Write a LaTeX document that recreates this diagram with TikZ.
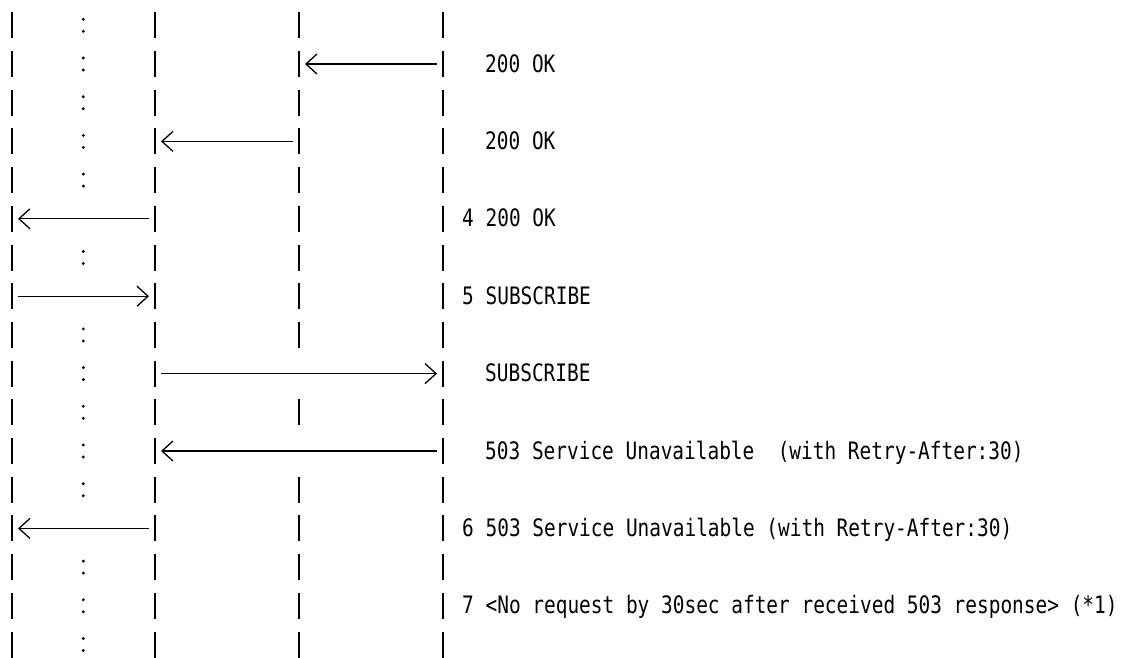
\documentclass[tikz,border=0pt]{standalone}
\usepackage{fontspec}
\newfontfamily\gothic[FakeStretch=0.81]{DejaVu Sans Mono}
\usetikzlibrary{arrows.meta}
\begin{document}
\begin{tikzpicture}[x=1pt,y=-1pt,
  bar/.style={line width=2.2pt},
  msg/.style={line width=1.3pt, shorten <=6pt, shorten >=6pt},
  chev/.tip={Straight Barb[length=11pt,width=20pt]},
  lbl/.style={anchor=base west, inner sep=0pt, font=\gothic\fontsize{24}{26}\selectfont}]
\useasboundingbox (0,0) rectangle (1121,657);
% row coordinates on the four lifelines and the colon column
\foreach \i in {1,...,17}{
  \coordinate (A\i) at (12,{25.3+(\i-1)*38.7});
  \coordinate (B\i) at (83.3,{25.3+(\i-1)*38.7});
  \coordinate (C\i) at (155,{25.3+(\i-1)*38.7});
  \coordinate (D\i) at (299,{25.3+(\i-1)*38.7});
  \coordinate (E\i) at (443,{25.3+(\i-1)*38.7});
}
% lifeline bars
\foreach \i in {1,...,17}{
  \draw[bar] ([yshift=13pt]A\i) -- ([yshift=-13pt]A\i);
  \draw[bar] ([yshift=13pt]C\i) -- ([yshift=-13pt]C\i);
  \draw[bar] ([yshift=13pt]E\i) -- ([yshift=-13pt]E\i);
}
\foreach \i in {1,...,9,11,13,14,15,16,17}{
  \draw[bar] ([yshift=13pt]D\i) -- ([yshift=-13pt]D\i);
}
% colons
\foreach \i in {1,2,3,4,5,7,9,10,11,12,13,15,16,17}{
  \fill ([yshift=6pt]B\i) circle (1.6pt);
  \fill ([yshift=-6pt]B\i) circle (1.6pt);
}
% messages
\draw[msg, chev-] (D2) -- (E2);
\draw[msg, chev-] (C4) -- (D4);
\draw[msg, chev-] (A6) -- (C6);
\draw[msg, -chev] (A8) -- (C8);
\draw[msg, -chev] (C10) -- (E10);
\draw[msg, chev-] (C12) -- (E12);
\draw[msg, chev-] (A14) -- (C14);
% labels
\node[lbl] (t2) at ([xshift=42pt,yshift=-8pt]E2) {200 OK};
\node[lbl] (t4) at ([xshift=42pt,yshift=-8pt]E4) {200 OK};
\node[lbl] (t6) at ([xshift=19pt,yshift=-8pt]E6) {4 200 OK};
\node[lbl] (t8) at ([xshift=19pt,yshift=-8pt]E8) {5 SUBSCRIBE};
\node[lbl] (t10) at ([xshift=42pt,yshift=-8pt]E10) {SUBSCRIBE};
\node[lbl] (t12) at ([xshift=42pt,yshift=-8pt]E12) {503 Service Unavailable\ \ (with Retry-After:30)};
\node[lbl] (t14) at ([xshift=19pt,yshift=-8pt]E14) {6 503 Service Unavailable (with Retry-After:30)};
\node[lbl] (t16) at ([xshift=19pt,yshift=-8pt]E16) {7 <No request by 30sec after received 503 response> (*1)};
\end{tikzpicture}
\end{document}
